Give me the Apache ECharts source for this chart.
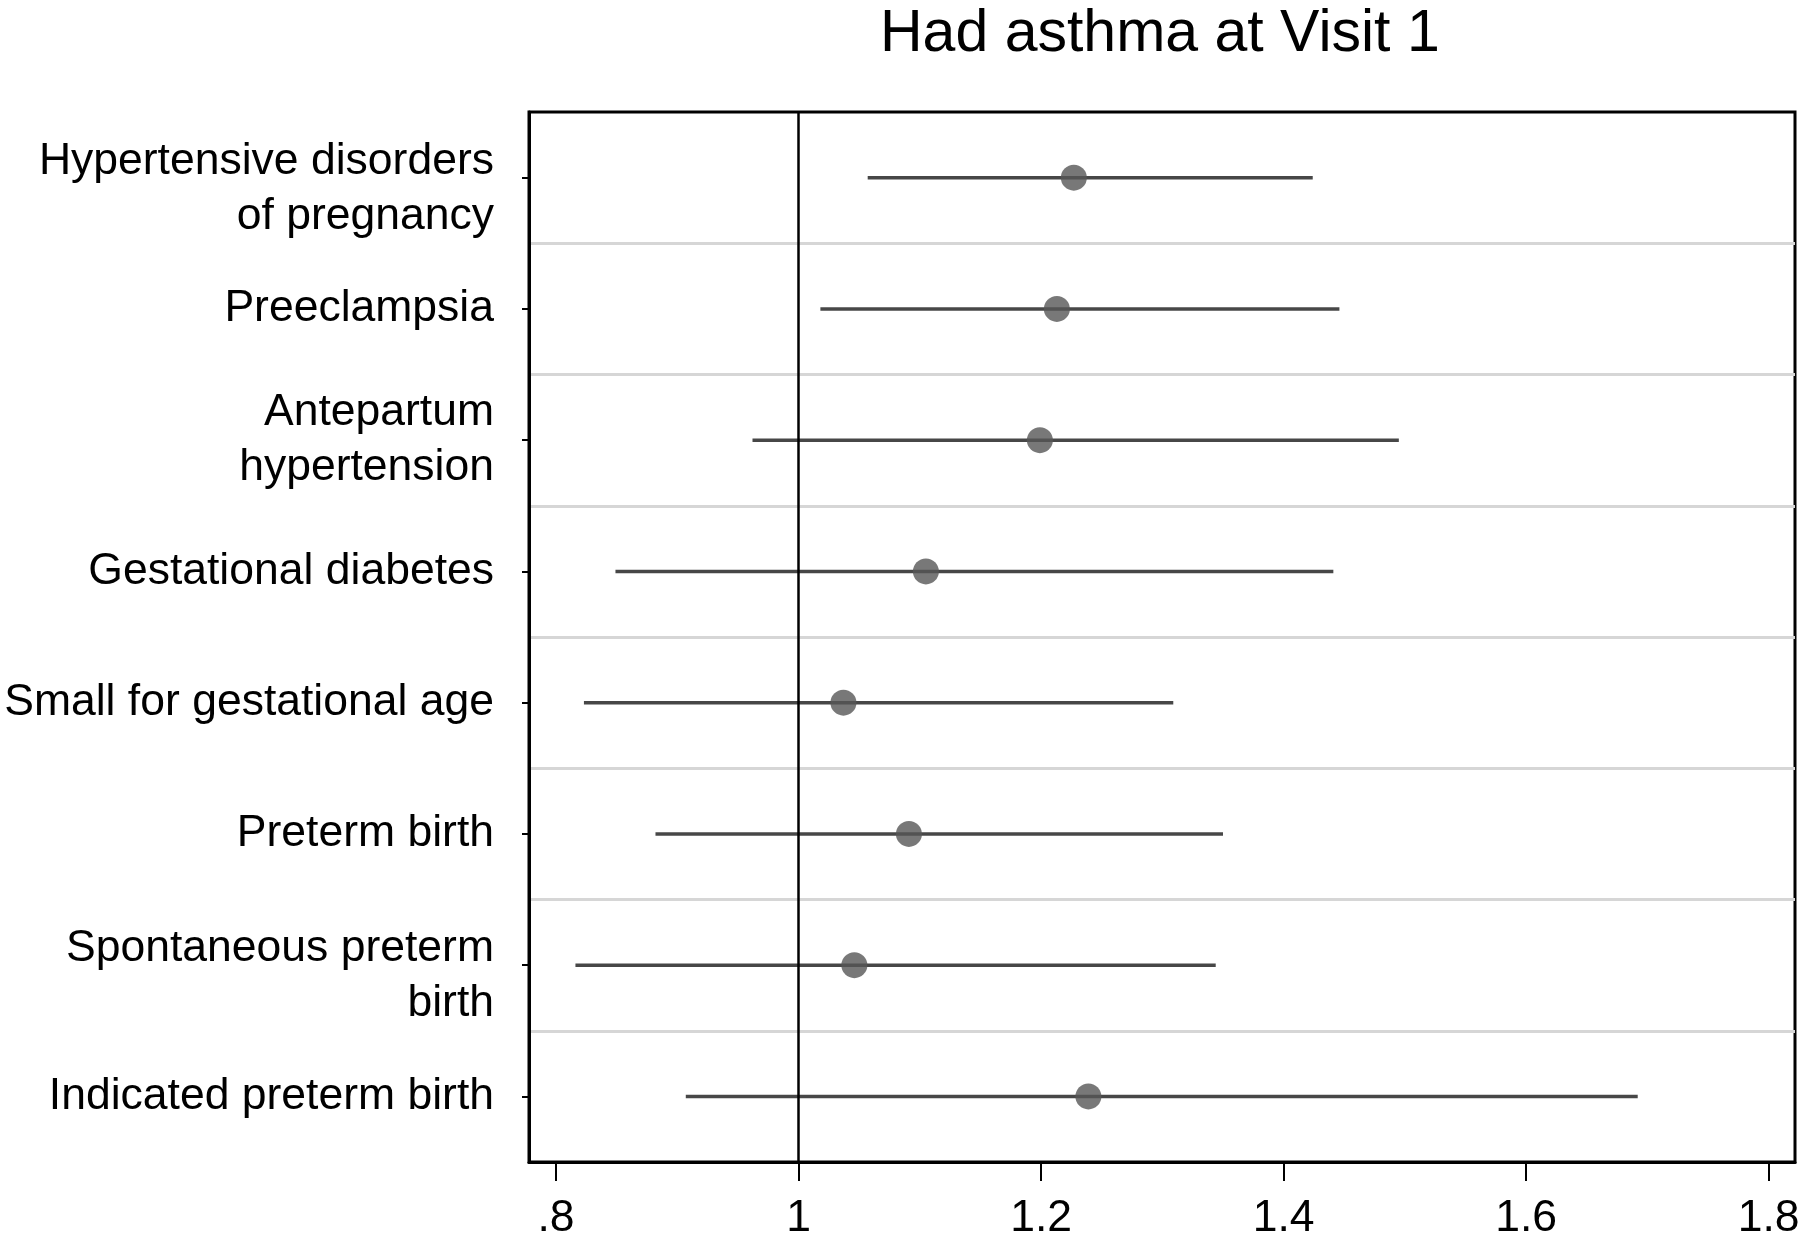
<!DOCTYPE html>
<html>
<head>
<meta charset="utf-8">
<script src="https://cdn.jsdelivr.net/npm/echarts@6/dist/echarts.min.js"></script>
<style>
html,body{margin:0;padding:0;background:#fff;}
#chart{width:1800px;height:1250px;}
</style>
</head>
<body>
<div id="chart"></div>
<script>
const titleText = 'Had asthma at Visit 1';
const categories = [
  'Hypertensive disorders\nof pregnancy',
  'Preeclampsia',
  'Antepartum\nhypertension',
  'Gestational diabetes',
  'Small for gestational age',
  'Preterm birth',
  'Spontaneous preterm\nbirth',
  'Indicated preterm birth'
];
const estimate = [1.227, 1.213, 1.199, 1.105, 1.037, 1.091, 1.046, 1.239];
const lower    = [1.057, 1.018, 0.962, 0.849, 0.823, 0.882, 0.816, 0.907];
const upper    = [1.424, 1.446, 1.495, 1.441, 1.309, 1.350, 1.344, 1.692];
const xTicks = [0.8, 1, 1.2, 1.4, 1.6, 1.8];
const xTickLabels = ['.8', '1', '1.2', '1.4', '1.6', '1.8'];
const refValue = 1;

const FONT = '"Liberation Sans", Arial, sans-serif';
const chart = echarts.init(document.getElementById('chart'), null, {renderer: 'canvas'});

const barData = categories.map((c, i) => [lower[i], upper[i], i]);
const pointData = categories.map((c, i) => [estimate[i], i]);
// labels that sit a little lower than their tick in the reference
const loweredLabels = [0, 6];

chart.setOption({
  backgroundColor: '#ffffff',
  animation: false,
  title: {
    text: titleText,
    left: 875,
    top: 0,
    textStyle: {fontFamily: FONT, fontSize: 59, fontWeight: 'normal', color: '#000'}
  },
  grid: {
    left: 529, right: 5, top: 112, bottom: 88,
    outerBoundsMode: 'none',
    containLabel: false,
    show: true, borderColor: '#000', borderWidth: 3, backgroundColor: 'transparent'
  },
  xAxis: {
    type: 'value',
    min: 0.7777,
    max: 1.8217,
    axisLine: {show: true, lineStyle: {color: '#000', width: 3}},
    axisTick: {show: true, length: 19, lineStyle: {color: '#000', width: 2}, customValues: xTicks},
    axisLabel: {
      show: true, margin: 34, fontFamily: FONT, fontSize: 44.5, color: '#000',
      customValues: xTicks,
      formatter: function (v) {
        const idx = xTicks.findIndex(t => Math.abs(t - v) < 1e-9);
        return idx >= 0 ? xTickLabels[idx] : '';
      }
    },
    splitLine: {show: false}
  },
  yAxis: {
    type: 'category',
    data: categories,
    inverse: true,
    boundaryGap: true,
    axisLine: {show: true, lineStyle: {color: '#000', width: 3}},
    axisTick: {show: true, alignWithLabel: true, length: 7, lineStyle: {color: '#000', width: 2}},
    axisLabel: {
      show: true, margin: 35, fontFamily: FONT, fontSize: 44.5, lineHeight: 55,
      color: '#000', align: 'right',
      formatter: function (v, i) {
        return loweredLabels.indexOf(i) >= 0 ? '{gap| }\n' + v : v;
      },
      rich: {gap: {fontSize: 10, lineHeight: 23}}
    },
    splitLine: {show: true, showMinLine: false, showMaxLine: false, lineStyle: {color: '#d6d6d6', width: 3}}
  },
  series: [
    {
      type: 'line',
      data: [],
      silent: true,
      markLine: {
        silent: true,
        symbol: 'none',
        label: {show: false},
        lineStyle: {color: '#000', width: 2.5, type: 'solid'},
        data: [{xAxis: refValue}]
      },
      z: 2
    },
    {
      type: 'custom',
      data: barData,
      encode: {x: [0, 1], y: 2},
      z: 3,
      renderItem: function (params, api) {
        const p0 = api.coord([api.value(0), api.value(2)]);
        const p1 = api.coord([api.value(1), api.value(2)]);
        return {
          type: 'line',
          shape: {x1: p0[0], y1: p0[1], x2: p1[0], y2: p1[1]},
          style: {stroke: '#474747', lineWidth: 3.5}
        };
      }
    },
    {
      type: 'scatter',
      data: pointData,
      symbol: 'circle',
      symbolSize: 26,
      itemStyle: {color: '#565656'},
      z: 4
    }
  ]
});
</script>
</body>
</html>
